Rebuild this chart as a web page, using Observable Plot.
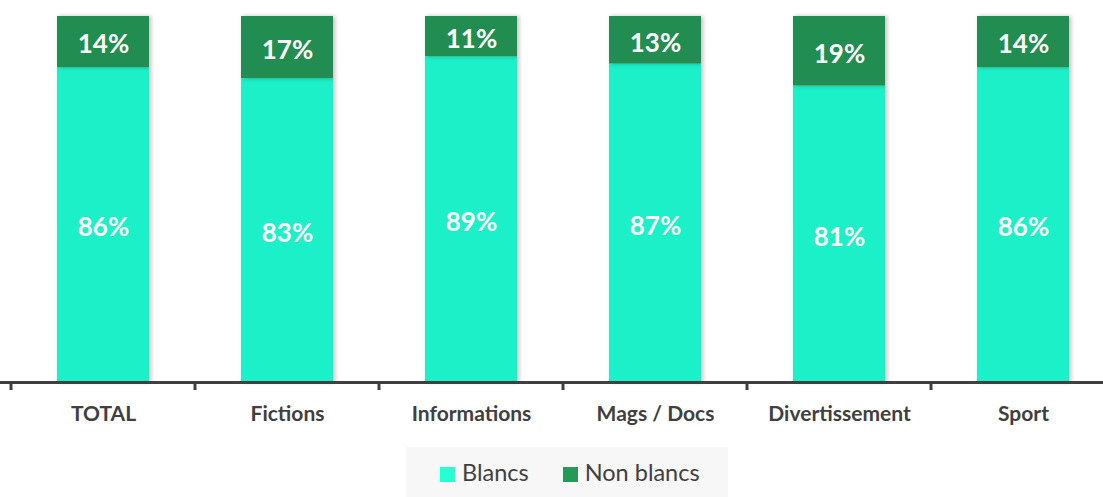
<!DOCTYPE html>
<html><head><meta charset="utf-8">
<script src="https://cdn.jsdelivr.net/npm/d3@7"></script>
<script src="https://cdn.jsdelivr.net/npm/@observablehq/plot@0.6"></script>
<style>
body{margin:0;background:#fff;font-family:Lato,"Open Sans",sans-serif;}
#chart{position:relative;width:1103px;height:497px;overflow:hidden;}
#chart svg{overflow:visible}
g[aria-label="bar"] rect{filter:drop-shadow(2px 0px 2px rgba(0,0,0,0.25));}
#legend{position:absolute;left:406px;top:447px;width:322px;height:50px;background:#f7f7f7;display:flex;align-items:center;justify-content:flex-start;padding-left:34px;box-sizing:border-box;gap:34px;font-size:23.5px;color:#404040;}
#legend span.sw{display:inline-block;width:15px;height:15px;margin-right:7px;vertical-align:-1px;}
</style></head>
<body>
<div id="chart"><div id="legend"></div></div>
<script>
const categories = ["TOTAL","Fictions","Informations","Mags / Docs","Divertissement","Sport"];
const blancs =     [86, 83, 89, 87, 81, 86];
const nonBlancs =  [14, 17, 11, 13, 19, 14];
const seriesNames = ["Blancs","Non blancs"];
const seriesColors = ["#1BF0C8","#218D51"];
const legendColors = ["#2BFDD3","#259A56"];

const data = [];
categories.forEach((c,i)=>{
  data.push({cat:c, series:seriesNames[0], value:blancs[i]/100});
  data.push({cat:c, series:seriesNames[1], value:nonBlancs[i]/100});
});

const plot = Plot.plot({
  width:1103, height:440,
  marginTop:16, marginBottom:58, marginLeft:0, marginRight:0,
  style:{fontFamily:"Lato, 'Open Sans', sans-serif", color:"#404040", background:"transparent"},
  x:{domain:categories, range:[11,1115], paddingInner:0.5, paddingOuter:0.25, label:null},
  y:{domain:[0,1], axis:null},
  color:{domain:seriesNames, range:seriesColors},
  marks:[
    Plot.barY(data, Plot.stackY({x:"cat", y:"value", fill:"series", order:seriesNames})),
    Plot.text(data, Plot.stackY({x:"cat", y:"value", order:seriesNames, z:"series",
      text:d=>Math.round(d.value*100)+"%", fill:"white", fontSize:26, fontWeight:"bold", dy:3})),
    Plot.ruleY([0], {stroke:"#404040", strokeWidth:3}),
    Plot.axisX({tickSize:0, tickPadding:24, fontSize:21, fontWeight:"bold", fill:"#404040"})
  ]
});
document.getElementById("chart").prepend(plot);

// band-edge ticks from the x scale
const xs = plot.scale("x");
const step = xs.step;
const y0 = plot.scale("y").apply(0);
const svg = d3.select(plot);
const edges = categories.map(c=>xs.apply(c) - (step - xs.bandwidth)/2);
edges.push(xs.apply(categories[categories.length-1]) + xs.bandwidth + (step - xs.bandwidth)/2);
svg.append("g").selectAll("line").data(edges).join("line")
  .attr("x1",d=>d).attr("x2",d=>d).attr("y1",y0).attr("y2",y0+8)
  .attr("stroke","#404040").attr("stroke-width",3);

const leg = document.getElementById("legend");
seriesNames.forEach((n,i)=>{
  const s=document.createElement("div");
  s.innerHTML=`<span class="sw" style="background:${legendColors[i]}"></span>${n}`;
  leg.appendChild(s);
});
</script>
</body></html>
